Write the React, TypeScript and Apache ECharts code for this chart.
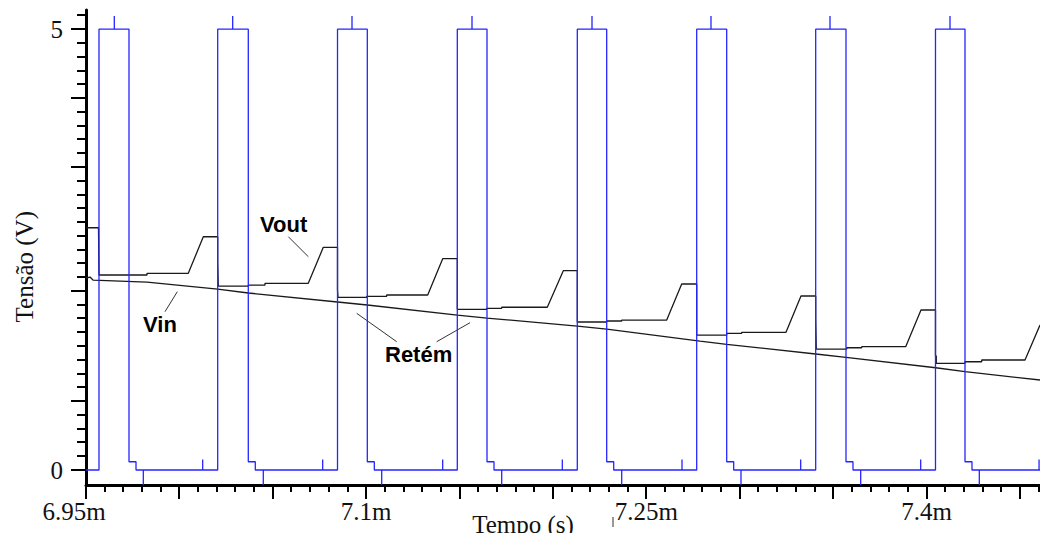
import React, { useEffect, useRef } from "react";
import * as echarts from "echarts";

// ---- axis ranges (ms / V) ----
const T_MIN = 6.95;
const T_MAX = 7.46071; // time at the right edge of the picture
const V_MIN = -0.17;
const V_MAX = 5.218;

// ---- tick / label values ----
const xMajorTicks = [6.95, 7.0, 7.05, 7.1, 7.15, 7.2, 7.25, 7.3, 7.35, 7.4, 7.45];
const xMinorTicks = [
  6.96, 6.97, 6.98, 6.99, 7.01, 7.02, 7.03, 7.04, 7.06, 7.07, 7.08, 7.09,
  7.11, 7.12, 7.13, 7.14, 7.16, 7.17, 7.18, 7.19, 7.21, 7.22, 7.23, 7.24,
  7.26, 7.27, 7.28, 7.29, 7.31, 7.32, 7.33, 7.34, 7.36, 7.37, 7.38, 7.39,
  7.41, 7.42, 7.43, 7.44, 7.46,
];
const xLabelValues = [6.95, 7.1, 7.25, 7.4];
const yLongTicks = [0, 0.781, 2.031, 3.438, 4.219, 5];
const yShortTicks = [
  0.156, 0.313, 0.469, 0.625, 0.938, 1.094, 1.25, 1.406, 1.563, 1.719, 1.875,
  2.188, 2.344, 2.5, 2.656, 2.813, 2.969, 3.125, 3.281, 3.594, 3.75, 3.906,
  4.063, 4.375, 4.531, 4.688, 4.844, 5.156,
];
const yLabelValues = [0, 5];

// ---- blue clock pulses (times in ms) ----
const pulseHigh = 5;
const pulseTopSpike = 5.15;
const pulseFallLevel = 0.094;
const pulseDownSpike = -0.17;
const pulseUpSpike = 0.12;
const riseTimes = [6.95696, 7.0205, 7.08464, 7.14877, 7.21301, 7.27693, 7.34063, 7.40476];
const topSpikeTimes = [6.96515, 7.02853, 7.0924, 7.15664, 7.22088, 7.28458, 7.34829, 7.41253];
const fallTimes = [6.97302, 7.03688, 7.10059, 7.16467, 7.22875, 7.29299, 7.35685, 7.42056];
const settleTimes = [6.97677, 7.04063, 7.10434, 7.16842, 7.2325, 7.29673, 7.3606, 7.4243];
const downSpikeTimes = [6.98068, 7.04491, 7.1083, 7.17254, 7.23678, 7.30064, 7.36472, 7.42822];
const upSpikeTimes = [7.01247, 7.07671, 7.14095, 7.20498, 7.26906, 7.3326, 7.39684, 7.4602];

// ---- Vout (sample & hold output) ----
const voutT = [
  6.95, 6.95669, 6.95696, 6.98266, 6.98266, 7.00476, 7.01279, 7.0205,
  7.0205, 7.02082, 7.02082, 7.03688, 7.03688, 7.04582, 7.04582, 7.069, 7.07703, 7.08464,
  7.08464, 7.0849, 7.0849, 7.10027, 7.10027, 7.11097, 7.11097, 7.13292, 7.14095, 7.14877,
  7.14877, 7.16451, 7.16451, 7.17254, 7.17254, 7.19695, 7.20552, 7.21301,
  7.21301, 7.22875, 7.22875, 7.23678, 7.23678, 7.26087, 7.2689, 7.27693,
  7.27693, 7.29299, 7.29299, 7.30102, 7.30102, 7.32473, 7.33276, 7.34063,
  7.34063, 7.34095, 7.34095, 7.35723, 7.35723, 7.36526, 7.36526, 7.38881, 7.397, 7.40476,
  7.40476, 7.40519, 7.40519, 7.42056, 7.42056, 7.4295, 7.4295, 7.45268, 7.46071,
];
const voutV = [
  2.748, 2.748, 2.212, 2.212, 2.231, 2.231, 2.646, 2.646,
  2.363, 2.363, 2.087, 2.087, 2.098, 2.098, 2.118, 2.118, 2.526, 2.526,
  2.042, 2.042, 1.959, 1.959, 1.97, 1.97, 1.985, 1.985, 2.397, 2.397,
  1.823, 1.823, 1.834, 1.834, 1.846, 1.846, 2.261, 2.261,
  1.679, 1.679, 1.69, 1.69, 1.701, 1.701, 2.11, 2.11,
  1.531, 1.531, 1.551, 1.551, 1.562, 1.562, 1.974, 1.974,
  1.713, 1.713, 1.372, 1.372, 1.387, 1.387, 1.399, 1.399, 1.815, 1.815,
  1.293, 1.293, 1.21, 1.21, 1.228, 1.228, 1.248, 1.248, 1.645,
];

// ---- Vin (input signal) ----
const vinT = [
  6.95, 6.95214, 6.95375, 6.98266, 7.0205, 7.03688, 7.08464, 7.10059, 7.14877,
  7.16467, 7.21301, 7.22875, 7.27869, 7.29299, 7.34063, 7.35685, 7.40487,
  7.42056, 7.46071,
];
const vinV = [
  2.178, 2.189, 2.155, 2.132, 2.053, 2.008, 1.906, 1.872, 1.758, 1.724, 1.633,
  1.599, 1.463, 1.426, 1.316, 1.278, 1.16, 1.115, 1.021,
];

function buildPulses(): number[][] {
  const pts: number[][] = [[T_MIN, 0]];
  for (let k = 0; k < riseTimes.length; k++) {
    pts.push(
      [riseTimes[k], 0],
      [riseTimes[k], pulseHigh],
      [topSpikeTimes[k], pulseHigh],
      [topSpikeTimes[k], pulseTopSpike],
      [topSpikeTimes[k], pulseHigh],
      [fallTimes[k], pulseHigh],
      [fallTimes[k], pulseFallLevel],
      [settleTimes[k], pulseFallLevel],
      [settleTimes[k], 0],
      [downSpikeTimes[k], 0],
      [downSpikeTimes[k], pulseDownSpike],
      [downSpikeTimes[k], 0],
      [upSpikeTimes[k], 0],
      [upSpikeTimes[k], pulseUpSpike],
      [upSpikeTimes[k], 0]
    );
  }
  pts.push([T_MAX, 0]);
  return pts;
}

const zip = (a: number[], b: number[]) => a.map((v, i) => [v, b[i]]);

const SERIF = '"Liberation Serif", "Times New Roman", serif';
const SANS = '"Liberation Sans", Arial, sans-serif';

// tick marks drawn as small filled rects through the axes' own scales
function tickSeries(values: number[], dir: "x" | "y", len: number) {
  return {
    type: "custom",
    xAxisIndex: 0,
    yAxisIndex: 0,
    clip: false,
    silent: true,
    z: 6,
    data: values.map((v) => (dir === "x" ? [v, V_MIN] : [T_MIN, v])),
    renderItem: (_params: any, api: any) => {
      const p = api.coord([api.value(0), api.value(1)]);
      const shape =
        dir === "x"
          ? { x: Math.round(p[0]) - 1, y: p[1], width: 2, height: len }
          : { x: p[0] - len, y: Math.round(p[1]) - 1, width: len, height: 2 };
      return { type: "rect", shape, style: { fill: "#000" } };
    },
  };
}

export default function App() {
  const ref = useRef<HTMLDivElement>(null);
  useEffect(() => {
    const chart = echarts.init(ref.current!, null, { renderer: "svg" });
    const axisLineStyle = { color: "#000", width: 3 };
    chart.setOption({
      animation: false,
      backgroundColor: "#fff",
      grid: { left: 86, right: 0, top: 10, bottom: 48, containLabel: false },
      xAxis: {
        type: "value",
        min: T_MIN,
        max: T_MAX,
        position: "bottom",
        axisLine: { show: true, onZero: false, lineStyle: axisLineStyle },
        axisTick: { show: false },
        axisLabel: {
          show: true,
          customValues: xLabelValues,
          margin: 14,
          fontFamily: SERIF,
          fontSize: 25,
          color: "#111",
          formatter: (v: number) =>
            Math.abs(v - xLabelValues[0]) < 1e-6 ? `{first|${xLabelValues[0]}m}` : `${+v.toFixed(2)}m`,
          rich: {
            first: { fontFamily: SERIF, fontSize: 25, color: "#111", padding: [0, 24, 0, 0] },
          },
        },
        splitLine: { show: false },
      },
      yAxis: {
        type: "value",
        min: V_MIN,
        max: V_MAX,
        position: "left",
        axisLine: { show: true, onZero: false, lineStyle: axisLineStyle },
        axisTick: { show: false },
        axisLabel: {
          show: true,
          customValues: yLabelValues,
          margin: 23,
          fontFamily: SERIF,
          fontSize: 25,
          color: "#111",
          formatter: (v: number) => String(Math.round(v)),
        },
        splitLine: { show: false },
      },
      series: [
        {
          name: "Vin",
          type: "line",
          data: zip(vinT, vinV),
          showSymbol: false,
          symbol: "none",
          lineStyle: { color: "#1a1a1a", width: 1.3 },
          z: 3,
        },
        {
          name: "Vout",
          type: "line",
          data: zip(voutT, voutV),
          showSymbol: false,
          symbol: "none",
          lineStyle: { color: "#1a1a1a", width: 1.3 },
          z: 3,
        },
        {
          name: "Clock",
          type: "line",
          data: buildPulses(),
          showSymbol: false,
          symbol: "none",
          lineStyle: { color: "#2424ff", width: 1.3 },
          z: 4,
        },
        tickSeries(xMajorTicks, "x", 14),
        tickSeries(xMinorTicks, "x", 7),
        tickSeries(yLongTicks, "y", 15),
        tickSeries(yShortTicks, "y", 9),
      ],
      graphic: [
        {
          type: "text",
          x: 24,
          y: 266.7,
          rotation: Math.PI / 2,
          style: { text: "Tensão (V)", font: `25px ${SERIF}`, fill: "#111", align: "center", verticalAlign: "middle" },
        },
        {
          type: "text",
          x: 523,
          y: 524,
          style: { text: "Tempo (s)", font: `25px ${SERIF}`, fill: "#111", align: "center", verticalAlign: "middle" },
        },
        { type: "line", shape: { x1: 613, y1: 517, x2: 613, y2: 527 }, style: { stroke: "#333", lineWidth: 1 } },
        {
          type: "text",
          x: 260,
          y: 224,
          style: { text: "Vout", font: `bold 22px ${SANS}`, fill: "#000", align: "left", verticalAlign: "middle" },
        },
        { type: "line", shape: { x1: 288.3, y1: 236.7, x2: 308.3, y2: 256.7 }, style: { stroke: "#333", lineWidth: 1 } },
        {
          type: "text",
          x: 143,
          y: 324,
          style: { text: "Vin", font: `bold 22px ${SANS}`, fill: "#000", align: "left", verticalAlign: "middle" },
        },
        { type: "line", shape: { x1: 165, y1: 311.7, x2: 177.3, y2: 291.7 }, style: { stroke: "#333", lineWidth: 1 } },
        {
          type: "text",
          x: 385,
          y: 354,
          style: { text: "Retém", font: `bold 22px ${SANS}`, fill: "#000", align: "left", verticalAlign: "middle" },
        },
        { type: "line", shape: { x1: 396.7, y1: 341.7, x2: 356.7, y2: 313.3 }, style: { stroke: "#333", lineWidth: 1 } },
        { type: "line", shape: { x1: 436.7, y1: 341.7, x2: 470, y2: 322.7 }, style: { stroke: "#333", lineWidth: 1 } },
      ],
    });
    return () => chart.dispose();
  }, []);
  return (
    <div
      ref={ref}
      style={{ position: "fixed", left: 0, top: 0, width: 1040, height: 533, background: "#fff" }}
    />
  );
}
